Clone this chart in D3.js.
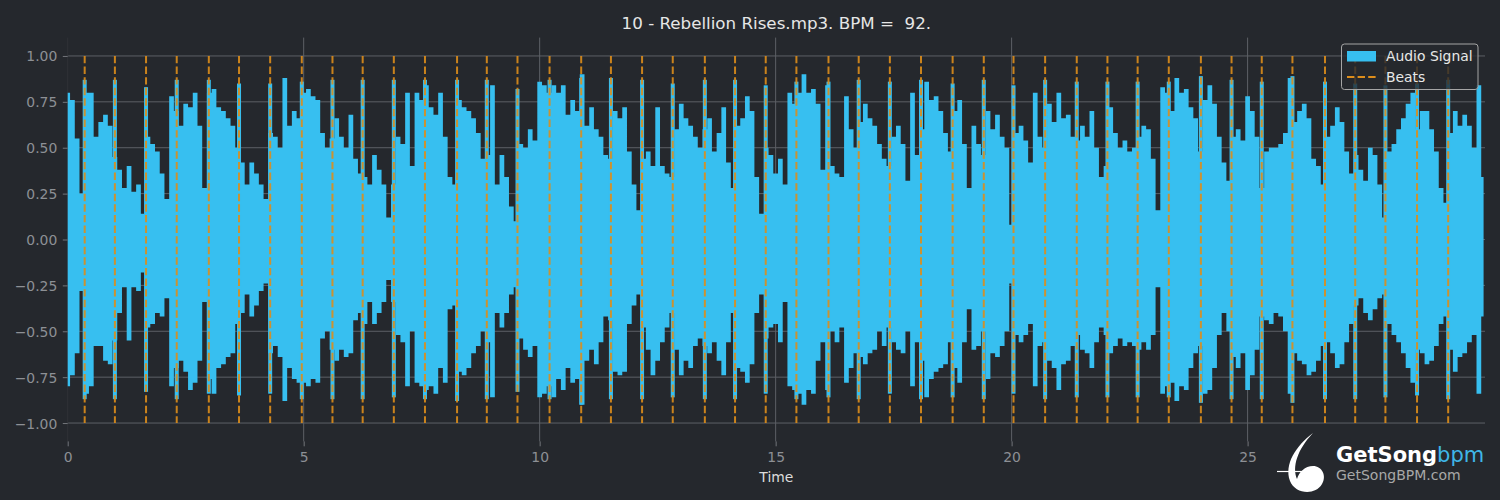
<!DOCTYPE html>
<html>
<head>
<meta charset="utf-8">
<script src="https://cdn.jsdelivr.net/npm/d3@7"></script>
<style>
  html, body { margin: 0; padding: 0; background: #25282d; }
  svg { display: block; }
</style>
</head>
<body>
<div id="chart"></div>
<script>
// waveform envelope, one value every 0.1 s (0.0 .. 30.0)
const envStep = 0.1;
const envTop = [
  0.80,0.76,0.55,0.25,0.80,0.80,0.56,0.64,0.68,0.62,
  0.45,0.38,0.28,0.40,0.26,0.30,0.14,0.56,0.52,0.48,
  0.36,0.22,0.78,0.70,0.62,0.74,0.72,0.80,0.62,0.28,
  0.80,0.82,0.72,0.70,0.66,0.62,0.50,0.42,0.30,0.42,
  0.36,0.30,0.22,0.58,0.56,0.50,0.88,0.62,0.70,0.66,
  0.80,0.82,0.78,0.76,0.58,0.50,0.55,0.66,0.56,0.50,
  0.68,0.44,0.36,0.34,0.30,0.46,0.38,0.30,0.12,0.30,
  0.56,0.52,0.80,0.40,0.80,0.76,0.84,0.72,0.68,0.80,
  0.56,0.34,0.30,0.76,0.72,0.70,0.66,0.58,0.44,0.46,
  0.84,0.30,0.46,0.34,0.18,0.10,0.52,0.50,0.60,0.54,
  0.86,0.84,0.80,0.84,0.80,0.84,0.68,0.76,0.70,0.90,
  0.62,0.72,0.60,0.56,0.46,0.44,0.70,0.66,0.72,0.48,
  0.30,0.16,0.44,0.48,0.40,0.72,0.40,0.36,0.34,0.60,
  0.74,0.66,0.62,0.56,0.50,0.60,0.66,0.48,0.58,0.72,
  0.42,0.28,0.62,0.66,0.78,0.70,0.34,0.14,0.50,0.46,
  0.36,0.44,0.30,0.80,0.74,0.80,0.90,0.80,0.82,0.74,
  0.38,0.84,0.40,0.36,0.34,0.78,0.60,0.50,0.64,0.74,
  0.66,0.62,0.52,0.44,0.40,0.56,0.62,0.52,0.32,0.80,
  0.46,0.60,0.86,0.76,0.78,0.70,0.58,0.48,0.70,0.76,
  0.52,0.28,0.62,0.52,0.46,0.70,0.60,0.68,0.56,0.50,
  0.08,0.58,0.62,0.54,0.42,0.80,0.56,0.50,0.74,0.64,
  0.80,0.66,0.68,0.56,0.54,0.62,0.56,0.70,0.50,0.34,
  0.40,0.72,0.58,0.50,0.54,0.48,0.50,0.56,0.62,0.60,
  0.44,0.16,0.83,0.80,0.70,0.88,0.80,0.82,0.72,0.66,
  0.48,0.76,0.84,0.74,0.56,0.42,0.32,0.56,0.60,0.54,
  0.78,0.70,0.56,0.28,0.48,0.50,0.50,0.52,0.58,0.88,
  0.64,0.70,0.74,0.66,0.44,0.40,0.30,0.56,0.62,0.72,
  0.64,0.48,0.36,0.46,0.38,0.32,0.50,0.46,0.30,0.12,
  0.48,0.52,0.60,0.66,0.74,0.80,0.60,0.70,0.70,0.60,
  0.48,0.28,0.20,0.58,0.70,0.62,0.68,0.62,0.50,0.84,
  0.34
];
const envBottom = [
  -0.80,-0.74,-0.62,-0.28,-0.84,-0.80,-0.58,-0.58,-0.66,-0.68,
  -0.55,-0.40,-0.26,-0.55,-0.26,-0.28,-0.18,-0.48,-0.46,-0.40,
  -0.42,-0.32,-0.80,-0.70,-0.66,-0.72,-0.82,-0.78,-0.66,-0.34,
  -0.76,-0.84,-0.70,-0.68,-0.64,-0.62,-0.46,-0.40,-0.30,-0.42,
  -0.36,-0.28,-0.24,-0.62,-0.58,-0.64,-0.88,-0.70,-0.76,-0.78,
  -0.78,-0.80,-0.76,-0.78,-0.54,-0.50,-0.60,-0.66,-0.60,-0.64,
  -0.62,-0.44,-0.40,-0.46,-0.34,-0.46,-0.40,-0.34,-0.22,-0.34,
  -0.52,-0.56,-0.80,-0.50,-0.78,-0.80,-0.82,-0.80,-0.84,-0.70,
  -0.78,-0.38,-0.36,-0.72,-0.74,-0.70,-0.62,-0.58,-0.50,-0.56,
  -0.86,-0.40,-0.48,-0.40,-0.30,-0.26,-0.54,-0.60,-0.64,-0.58,
  -0.86,-0.84,-0.80,-0.86,-0.76,-0.82,-0.70,-0.78,-0.76,-0.90,
  -0.66,-0.60,-0.68,-0.56,-0.42,-0.44,-0.72,-0.74,-0.72,-0.46,
  -0.36,-0.30,-0.48,-0.60,-0.74,-0.66,-0.56,-0.48,-0.40,-0.60,
  -0.74,-0.66,-0.70,-0.58,-0.54,-0.58,-0.62,-0.56,-0.66,-0.74,
  -0.56,-0.40,-0.70,-0.72,-0.78,-0.68,-0.40,-0.30,-0.54,-0.48,
  -0.46,-0.56,-0.34,-0.80,-0.82,-0.84,-0.90,-0.82,-0.84,-0.66,
  -0.56,-0.82,-0.50,-0.56,-0.48,-0.78,-0.70,-0.62,-0.64,-0.68,
  -0.62,-0.60,-0.50,-0.58,-0.48,-0.56,-0.60,-0.62,-0.50,-0.80,
  -0.56,-0.66,-0.86,-0.76,-0.72,-0.70,-0.68,-0.56,-0.70,-0.78,
  -0.56,-0.38,-0.60,-0.58,-0.50,-0.76,-0.62,-0.64,-0.58,-0.50,
  -0.24,-0.52,-0.56,-0.52,-0.46,-0.80,-0.58,-0.56,-0.66,-0.70,
  -0.82,-0.68,-0.66,-0.58,-0.52,-0.60,-0.62,-0.70,-0.56,-0.48,
  -0.52,-0.62,-0.58,-0.54,-0.58,-0.56,-0.58,-0.60,-0.56,-0.60,
  -0.52,-0.26,-0.84,-0.80,-0.78,-0.88,-0.80,-0.82,-0.70,-0.62,
  -0.58,-0.84,-0.82,-0.70,-0.52,-0.40,-0.50,-0.64,-0.70,-0.62,
  -0.82,-0.74,-0.60,-0.42,-0.44,-0.46,-0.40,-0.42,-0.50,-0.84,
  -0.62,-0.66,-0.68,-0.74,-0.72,-0.66,-0.58,-0.56,-0.62,-0.70,
  -0.68,-0.56,-0.46,-0.36,-0.32,-0.40,-0.44,-0.38,-0.32,-0.30,
  -0.46,-0.52,-0.56,-0.62,-0.70,-0.78,-0.60,-0.62,-0.68,-0.66,
  -0.58,-0.46,-0.42,-0.60,-0.72,-0.64,-0.62,-0.56,-0.52,-0.84,
  -0.42
];

// detected beats (s) and the signal peak right on each beat
const beatTimes = [
  0.36, 1.00, 1.66, 2.31, 2.99, 3.63, 4.29, 4.96, 5.61, 6.25, 6.91,
  7.57, 8.25, 8.88, 9.53, 10.21, 10.88, 11.51, 12.17, 12.82, 13.50, 14.14, 14.79,
  15.44, 16.12, 16.76, 17.42, 18.08, 18.75, 19.41, 20.04, 20.71, 21.38, 22.03,
  22.67, 23.33, 24.01, 24.66, 25.30, 25.95, 26.64, 27.28, 27.92, 28.59, 29.25
];
const beatTop = [
  0.87, 0.87, 0.83, 0.87, 0.87, 0.85, 0.85, 0.86, 0.87, 0.87, 0.87,
  0.87, 0.87, 0.87, 0.82, 0.87, 0.88, 0.88, 0.87, 0.85, 0.87, 0.87, 0.84,
  0.86, 0.86, 0.87, 0.86, 0.87, 0.85, 0.87, 0.84, 0.87, 0.86, 0.86,
  0.86, 0.86, 0.89, 0.87, 0.86, 0.89, 0.86, 0.85, 0.84, 0.85, 0.87
];
const beatBottom = [
  -0.87, -0.87, -0.83, -0.87, -0.84, -0.85, -0.84, -0.87, -0.87, -0.87, -0.86,
  -0.87, -0.88, -0.87, -0.83, -0.87, -0.90, -0.87, -0.87, -0.86, -0.87, -0.87, -0.84,
  -0.87, -0.86, -0.87, -0.84, -0.87, -0.86, -0.87, -0.84, -0.87, -0.86, -0.86,
  -0.86, -0.86, -0.89, -0.87, -0.87, -0.89, -0.87, -0.87, -0.86, -0.85, -0.87
];

const xTicks = [0, 5, 10, 15, 20, 25];
const yTicks = [-1, -0.75, -0.5, -0.25, 0, 0.25, 0.5, 0.75, 1];
const title = "10 - Rebellion Rises.mp3. BPM =  92.";

(function () {
  const W = 1500, H = 500;
  const margin = { top: 37.6, right: 15, bottom: 58.6, left: 67.7 };
  const width = W - margin.left - margin.right;
  const height = H - margin.top - margin.bottom;
  const bg = "#25282d";
  const waveColour = "#37bff0";
  const beatColour = "#dd8d1b";
  const gridColour = "#5d6066";
  const tickText = "#8d9095";
  const font = "'DejaVu Sans', sans-serif";

  const svg = d3.select("#chart").append("svg")
    .attr("width", W).attr("height", H)
    .style("background", bg);

  const g = svg.append("g")
    .attr("transform", `translate(${margin.left},${margin.top})`);

  const x = d3.scaleLinear().domain([0, 30.03]).range([0, width]);
  const y = d3.scaleLinear().domain([-1.1, 1.1]).range([height, 0]);

  // grid
  g.append("g").selectAll("line").data(yTicks).join("line")
    .attr("x1", 0).attr("x2", width)
    .attr("y1", d => y(d)).attr("y2", d => y(d))
    .attr("stroke", gridColour).attr("stroke-width", 1);
  g.append("g").selectAll("line").data(xTicks).join("line")
    .attr("x1", d => x(d)).attr("x2", d => x(d))
    .attr("y1", 0).attr("y2", height)
    .attr("stroke", d => d === 0 ? "#2f3237" : gridColour)
    .attr("stroke-width", 1);

  // waveform
  const env = envTop.map((v, i) => ({ t: i * envStep, hi: v, lo: envBottom[i] }));
  g.append("path")
    .datum(env)
    .attr("fill", waveColour)
    .attr("d", d3.area()
      .curve(d3.curveStep)
      .x(d => x(d.t))
      .y0(d => y(d.lo))
      .y1(d => y(d.hi)));

  g.append("g").selectAll("rect").data(beatTimes).join("rect")
    .attr("x", d => x(d) - 2)
    .attr("width", 4)
    .attr("y", (d, i) => y(beatTop[i]))
    .attr("height", (d, i) => y(beatBottom[i]) - y(beatTop[i]))
    .attr("fill", waveColour);

  // beats
  g.append("g").selectAll("line").data(beatTimes).join("line")
    .attr("x1", d => x(d)).attr("x2", d => x(d))
    .attr("y1", y(1)).attr("y2", y(-1))
    .attr("stroke", beatColour)
    .attr("stroke-opacity", 0.9)
    .attr("stroke-width", 2)
    .attr("stroke-dasharray", "7.4 3.2");

  // axes
  const xAxis = g.append("g")
    .attr("transform", `translate(0,${height})`)
    .call(d3.axisBottom(x).tickValues(xTicks).tickFormat(d3.format("d"))
      .tickSize(4.9).tickPadding(6.3));
  const yAxis = g.append("g")
    .call(d3.axisLeft(y).tickValues(yTicks).tickFormat(d3.format(".2f"))
      .tickSize(4.9).tickPadding(5.5));

  [xAxis, yAxis].forEach(a => {
    a.select(".domain").remove();
    a.selectAll(".tick line").attr("stroke", "#72757a");
    a.selectAll(".tick text")
      .attr("fill", tickText)
      .style("font-family", font)
      .style("font-size", "13.9px");
  });
  yAxis.selectAll(".tick text").attr("dy", "0.36em");

  // labels
  svg.append("text")
    .attr("x", margin.left + width / 2).attr("y", 29)
    .attr("text-anchor", "middle")
    .attr("fill", "#e6e6e6")
    .style("font-family", font).style("font-size", "16.7px")
    .style("white-space", "pre")
    .text(title);

  svg.append("text")
    .attr("x", margin.left + width / 2).attr("y", 481.5)
    .attr("text-anchor", "middle")
    .attr("fill", "#dcdcdc")
    .style("font-family", font).style("font-size", "13.9px")
    .text("Time");

  // legend
  const legend = svg.append("g").attr("transform", "translate(1341.5,44)");
  legend.append("rect")
    .attr("width", 136.5).attr("height", 45.5).attr("rx", 3)
    .attr("fill", bg).attr("fill-opacity", 0.8)
    .attr("stroke", "#a5a5a5").attr("stroke-width", 1);
  legend.append("rect")
    .attr("x", 5.5).attr("y", 7).attr("width", 29).attr("height", 10.5)
    .attr("fill", waveColour);
  legend.append("line")
    .attr("x1", 5.5).attr("x2", 34.5).attr("y1", 33).attr("y2", 33)
    .attr("stroke", beatColour).attr("stroke-width", 2)
    .attr("stroke-dasharray", "7.4 3.2");
  legend.selectAll("text.lbl").data(["Audio Signal", "Beats"]).join("text")
    .attr("class", "lbl")
    .attr("x", 44.5).attr("y", (d, i) => 17 + i * 20.5)
    .attr("fill", "#e8e8e8")
    .style("font-family", font).style("font-size", "13.9px")
    .text(d => d);

  // watermark
  const logo = svg.append("g");
  logo.append("path")
    .attr("d", "M1313,433 C1296,446 1284,464 1290,481 C1295,494 1315,496 1322,484 C1327,476 1322,466 1313,466 C1305,466 1299,472 1297,479 C1292,467 1297,450 1313,433 Z")
    .attr("fill", "#ffffff");
  logo.append("line")
    .attr("x1", 1277).attr("x2", 1303).attr("y1", 471.5).attr("y2", 471.5)
    .attr("stroke", "#ffffff").attr("stroke-width", 1.2);
  const brand = logo.append("text")
    .attr("x", 1336).attr("y", 462)
    .style("font-family", font).style("font-size", "21px");
  brand.append("tspan").attr("fill", "#ffffff").attr("font-weight", "bold").text("GetSong");
  brand.append("tspan").attr("fill", "#3fb6e8").text("bpm");
  logo.append("text")
    .attr("x", 1336).attr("y", 480)
    .attr("fill", "#a8a8a8")
    .style("font-family", font).style("font-size", "14px")
    .text("GetSongBPM.com");
})();
</script>
</body>
</html>
